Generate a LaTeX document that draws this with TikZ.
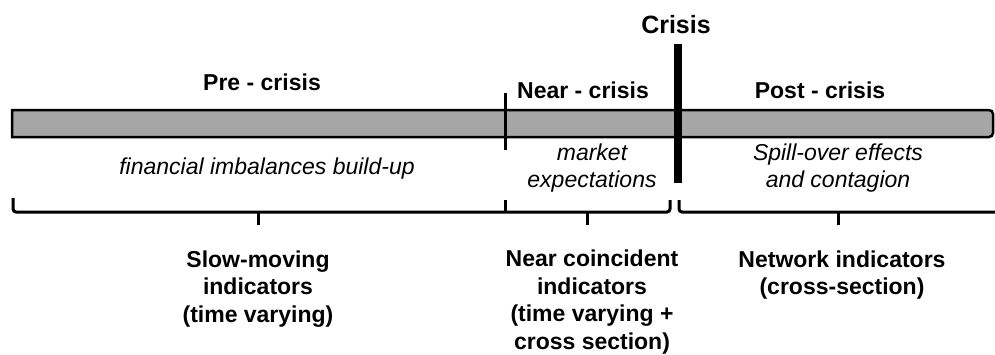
\documentclass[tikz,border=0pt]{standalone}
\usepackage{fontspec}
\setmainfont{Liberation Sans}
\definecolor{barfill}{RGB}{166,166,166}
\begin{document}
\begin{tikzpicture}[x=1pt,y=-1pt,
  boldtxt/.style={font=\fontsize{23}{27.5}\selectfont\bfseries, align=center, inner sep=0pt},
  italtxt/.style={font=\fontsize{23}{27}\selectfont\itshape, align=center, inner sep=0pt},
  brk/.style={line width=3pt, rounded corners=3pt},
  tickline/.style={line width=3pt}]
\useasboundingbox (0,0) rectangle (995,354);
% bar
\draw[line width=2.5pt, fill=barfill] (12,137) -- (12,110) [rounded corners=4pt] -- (993,110) -- (993,137) -- (20,137) [sharp corners] -- (12,137) -- cycle;
% markers
\coordinate (nt) at (505,93);
\coordinate (nb) at (505,150);
\draw[tickline] (nt) -- (nb);
\coordinate (ct) at (678,44);
\coordinate (cb) at (678,183);
\draw[line width=7.5pt] (ct) -- (cb);
% phase labels
\node[boldtxt, font=\fontsize{25}{30}\selectfont\bfseries] (crisis) at (676,25) {Crisis};
\node[boldtxt] (pre) at (262,82) {Pre - crisis};
\node[boldtxt] (near) at (583,90) {Near - crisis};
\node[boldtxt] (post) at (820,90) {Post - crisis};
% italic descriptions
\node[italtxt] (fin) at (267,169) {financial imbalances build-up};
\node[italtxt] (mkt) at (592,168) {market\\expectations};
\node[italtxt] (spill) at (838,168) {Spill-over effects\\and contagion};
% brackets
\draw[brk] (13,198) -- (13,212) -- (505,212);
\draw[line width=3pt] (505,200) -- (505,212);
\draw[brk] (505,212) -- (670,212) -- (670,200);
\draw[brk] (679,200) -- (679,212) -- (996,212);
\draw[line width=3pt] (258,212) -- (258,225);
\draw[line width=3pt] (587,212) -- (587,225);
\draw[line width=3pt] (838,212) -- (838,225);
% indicator labels
\node[boldtxt] (slow) at (258,289) {Slow-moving\\indicators\\(time varying)};
\node[boldtxt] (coin) at (592,302) {Near coincident\\indicators\\(time varying +\\cross section)};
\node[boldtxt] (netw) at (842,275) {Network indicators\\(cross-section)};
\end{tikzpicture}
\end{document}
